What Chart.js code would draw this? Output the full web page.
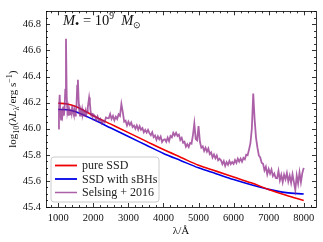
<!DOCTYPE html>
<html>
<head>
<meta charset="utf-8">
<script src="https://cdn.jsdelivr.net/npm/chart.js@4.4.0/dist/chart.umd.min.js"></script>
<style>
  html, body { margin: 0; padding: 0; background: #fff; }
  #wrap { width: 323px; height: 242px; }
</style>
</head>
<body>
<div id="wrap"><canvas id="c" width="323" height="242"></canvas></div>
<script>
// model curves (wavelength in Angstrom, log10 lambda L_lambda)
const ssdWave = [1000, 1250, 1500, 2000, 2500, 3000, 3500, 4000, 4500, 5000, 5500, 6000, 6500, 7000, 7500, 8000];
const pureSSD = [46.195, 46.19, 46.17, 46.10, 46.035, 45.97, 45.905, 45.84, 45.78, 45.72, 45.675, 45.63, 45.585, 45.535, 45.49, 45.45];
const ssdSBH  = [46.147, 46.145, 46.13, 46.07, 46.005, 45.94, 45.875, 45.81, 45.755, 45.70, 45.655, 45.61, 45.57, 45.535, 45.51, 45.50];

// Selsing+2016 composite
// UV part: 1000..2000 every 20 A
const specUVStart = 1000, specUVStep = 20;
const specUV = [
  46.00, 46.14, 46.26, 46.12, 46.07, 46.15, 46.11, 46.17, 46.10, 46.16,
  46.30, 46.69, 46.25, 46.13, 46.16, 46.10, 46.14, 46.11, 46.15, 46.12,
  46.18, 46.13, 46.11, 46.14, 46.10, 46.13, 46.18, 46.33, 46.375, 46.22,
  46.13, 46.10, 46.14, 46.12, 46.15, 46.11, 46.13, 46.10, 46.12, 46.14,
  46.11, 46.13, 46.16, 46.20, 46.24, 46.20, 46.14, 46.10, 46.12, 46.09,
  46.11
];
// optical part: 2040..8000 every 40 A
const specOptStart = 2040, specOptStep = 40;
const specOpt = [
  46.100, 46.068, 46.095, 46.062, 46.075, 46.042, 46.061, 46.050, 46.086, 46.081,
  46.080, 46.113, 46.075, 46.098, 46.065, 46.092, 46.074, 46.110, 46.098, 46.190,
  46.128, 46.054, 46.062, 46.025, 46.054, 46.029, 46.048, 46.013, 46.024, 46.000,
  46.025, 45.993, 46.020, 45.992, 46.005, 45.972, 45.991, 45.970, 45.991, 45.966,
  45.950, 45.973, 45.935, 45.948, 45.915, 45.942, 45.919, 45.940, 45.898, 45.915,
  45.918, 45.899, 45.932, 45.905, 45.944, 45.934, 45.968, 45.948, 45.969, 45.945,
  45.955, 45.913, 45.930, 45.892, 45.900, 45.862, 45.881, 45.860, 45.891, 45.886,
  45.950, 46.040, 45.920, 45.910, 46.020, 45.900, 45.855, 45.865, 45.830, 45.855,
  45.825, 45.848, 45.805, 45.818, 45.780, 45.802, 45.774, 45.795, 45.758, 45.770,
  45.758, 45.729, 45.752, 45.715, 45.744, 45.724, 45.753, 45.728, 45.744, 45.730,
  45.760, 45.738, 45.770, 45.747, 45.770, 45.747, 45.776, 45.765, 45.801, 45.796,
  45.840, 45.890, 46.000, 46.270, 46.070, 45.930, 45.855, 45.795, 45.780, 45.740,
  45.732, 45.681, 45.708, 45.650, 45.691, 45.656, 45.687, 45.637, 45.656, 45.622,
  45.620, 45.676, 45.605, 45.646, 45.590, 45.649, 45.613, 45.660, 45.596, 45.640,
  45.585, 45.650, 45.590, 45.530, 45.640, 45.580, 45.665, 45.590, 45.660, 45.700
];

const xTicks = [1000, 2000, 3000, 4000, 5000, 6000, 7000, 8000];
const yTicks = [45.4, 45.6, 45.8, 46.0, 46.2, 46.4, 46.6, 46.8];
const seriesNames = ['pure SSD', 'SSD with sBHs', 'Selsing + 2016'];

const RED = '#f00000';
const BLUE = '#0000e8';
const PURPLE = 'rgba(140,35,135,0.72)';
const SERIF = '"Liberation Serif", "Times New Roman", serif';

const ssdRedPts = ssdWave.map((w, i) => ({ x: w, y: pureSSD[i] }));
const ssdBluePts = ssdWave.map((w, i) => ({ x: w, y: ssdSBH[i] }));
const specPts = specUV.map((v, i) => ({ x: specUVStart + i * specUVStep, y: v }))
  .concat(specOpt.map((v, i) => ({ x: specOptStart + i * specOptStep, y: v })));

// draw mixed-size text pieces left to right; returns end x
function drawPieces(ctx, pieces, x, y, base) {
  pieces.forEach(p => {
    const size = p.size || base;
    ctx.font = (p.italic ? 'italic ' : '') + size + 'px ' + SERIF;
    ctx.fillText(p.t, x, y + (p.dy || 0));
    x += ctx.measureText(p.t).width;
  });
  return x;
}
function piecesWidth(ctx, pieces, base) {
  let w = 0;
  pieces.forEach(p => {
    ctx.font = (p.italic ? 'italic ' : '') + (p.size || base) + 'px ' + SERIF;
    w += ctx.measureText(p.t).width;
  });
  return w;
}

const decor = {
  id: 'decor',
  afterDatasetsDraw(chart) {
    const ctx = chart.ctx;
    const a = chart.chartArea;
    const xs = chart.scales.x, ys = chart.scales.y;
    ctx.save();
    ctx.strokeStyle = '#000';
    ctx.lineWidth = 0.8;

    // inward ticks on all four sides
    const tick = (px, len, vertical) => {
      ctx.beginPath();
      if (vertical) {
        ctx.moveTo(px, a.bottom); ctx.lineTo(px, a.bottom - len);
        ctx.moveTo(px, a.top); ctx.lineTo(px, a.top + len);
      } else {
        ctx.moveTo(a.left, px); ctx.lineTo(a.left + len, px);
        ctx.moveTo(a.right, px); ctx.lineTo(a.right - len, px);
      }
      ctx.stroke();
    };
    for (let v = 800; v <= 8200; v += 200) {
      const major = v % 1000 === 0;
      tick(Math.round(xs.getPixelForValue(v)) + 0.5, major ? 4 : 2, true);
    }
    for (let k = 0; k <= 30; k++) {
      const v = 45.4 + k * 0.05;
      if (v > ys.max + 1e-6) break;
      tick(Math.round(ys.getPixelForValue(v)) + 0.5, k % 4 === 0 ? 4 : 2, false);
    }

    // frame
    ctx.strokeRect(Math.round(a.left) + 0.5, Math.round(a.top) + 0.5,
      Math.round(a.right - a.left), Math.round(a.bottom - a.top));

    // legend
    const lx = 51, ly = 157, lw = 108, lh = 45, r = 3;
    ctx.beginPath();
    ctx.moveTo(lx + r, ly);
    ctx.arcTo(lx + lw, ly, lx + lw, ly + lh, r);
    ctx.arcTo(lx + lw, ly + lh, lx, ly + lh, r);
    ctx.arcTo(lx, ly + lh, lx, ly, r);
    ctx.arcTo(lx, ly, lx + lw, ly, r);
    ctx.closePath();
    ctx.fillStyle = 'rgba(255,255,255,0.85)';
    ctx.fill();
    ctx.strokeStyle = '#cccccc';
    ctx.lineWidth = 1;
    ctx.stroke();
    const legColors = [RED, BLUE, PURPLE];
    const rows = [165.5, 179, 192.5];
    ctx.textBaseline = 'middle';
    ctx.fillStyle = '#222';
    ctx.font = '12px ' + SERIF;
    seriesNames.forEach((name, i) => {
      ctx.strokeStyle = legColors[i];
      ctx.lineWidth = i === 2 ? 1.5 : 1.8;
      ctx.beginPath();
      ctx.moveTo(55, rows[i]); ctx.lineTo(77, rows[i]);
      ctx.stroke();
      ctx.fillText(name, 82, rows[i] + 0.5);
    });

    // mass label
    ctx.textBaseline = 'alphabetic';
    ctx.fillStyle = '#111';
    drawPieces(ctx, [
      { t: 'M', italic: true },
      { t: '\u2022', size: 12, dy: 2.5 },
      { t: ' = 10' },
      { t: '9', size: 9.5, dy: -6 },
      { t: '  ' },
      { t: 'M', italic: true },
      { t: '\u2299', size: 9, dy: 3 }
    ], 63, 25, 14.5);

    // x title
    ctx.font = '11px ' + SERIF;
    ctx.textAlign = 'center';
    ctx.fillText('\u03BB/\u00C5', (a.left + a.right) / 2, 234);
    ctx.textAlign = 'left';

    // y title (rotated)
    const yt = [
      { t: 'log' },
      { t: '10', size: 8, dy: 2.5 },
      { t: '(\u03BB' },
      { t: 'L', italic: true },
      { t: '\u03BB', size: 8, dy: 2.5 },
      { t: '/erg s' },
      { t: '\u22121', size: 8, dy: -4.5 },
      { t: ')' }
    ];
    const w = piecesWidth(ctx, yt, 11);
    ctx.translate(16, (a.top + a.bottom) / 2);
    ctx.rotate(-Math.PI / 2);
    drawPieces(ctx, yt, -w / 2, 0, 11);
    ctx.restore();
  }
};

new Chart(document.getElementById('c'), {
  type: 'scatter',
  data: {
    datasets: [
      { label: seriesNames[2], data: specPts, showLine: true, borderColor: PURPLE, borderWidth: 1.8,
        pointRadius: 0, tension: 0, order: 0 },
      { label: seriesNames[0], data: ssdRedPts, showLine: true, borderColor: RED, borderWidth: 1.6,
        pointRadius: 0, cubicInterpolationMode: 'monotone', order: 1 },
      { label: seriesNames[1], data: ssdBluePts, showLine: true, borderColor: BLUE, borderWidth: 1.6,
        pointRadius: 0, cubicInterpolationMode: 'monotone', order: 2 }
    ]
  },
  options: {
    responsive: false,
    animation: false,
    devicePixelRatio: 1,
    layout: { padding: { left: 0, right: 7, top: 5, bottom: 0 } },
    plugins: { legend: { display: false }, tooltip: { enabled: false } },
    scales: {
      x: {
        type: 'linear', min: 650, max: 8350,
        grid: { display: false, drawTicks: false },
        border: { display: false },
        afterBuildTicks: s => { s.ticks = xTicks.map(v => ({ value: v })); },
        afterFit: s => { s.height = 35; },
        ticks: { padding: 5, maxRotation: 0, autoSkip: false, color: '#111',
          font: { family: SERIF, size: 10.5 }, callback: v => String(v) }
      },
      y: {
        type: 'linear', min: 45.4, max: 46.9,
        grid: { display: false, drawTicks: false },
        border: { display: false },
        afterBuildTicks: s => { s.ticks = yTicks.map(v => ({ value: v })); },
        afterFit: s => { s.width = 46; },
        ticks: { padding: 5, autoSkip: false, color: '#111',
          font: { family: SERIF, size: 10.5 }, callback: v => Number(v).toFixed(1) }
      }
    }
  },
  plugins: [decor]
});
</script>
</body>
</html>
